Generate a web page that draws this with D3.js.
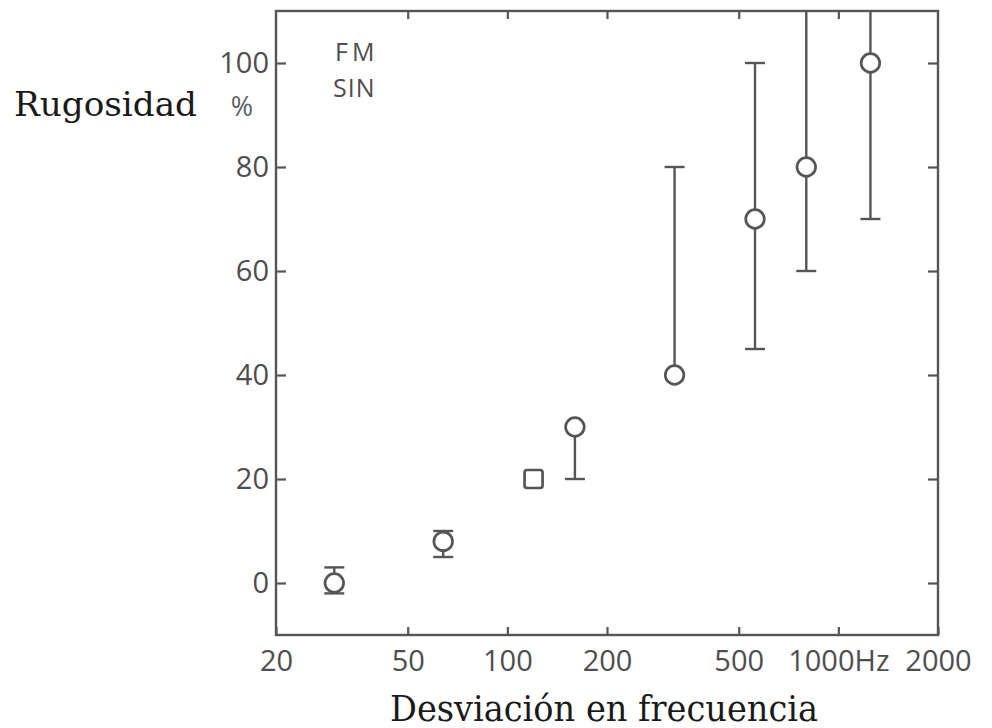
<!DOCTYPE html>
<html>
<head>
<meta charset="utf-8">
<script src="https://cdn.jsdelivr.net/npm/d3@7"></script>
<style>
  html, body { margin: 0; padding: 0; background: #fff; }
  svg { display: block; }
</style>
</head>
<body>
<svg id="chart" width="992" height="728"></svg>
<script>
// Frequency deviation (Hz) of each measured condition
const freq = [30, 64, 120, 160, 320, 560, 800, 1250];
// Perceived roughness (%)
const roughness = [0, 8, 20, 30, 40, 70, 80, 100];
// Spread of the judgements (lower / upper end of each bar)
const spreadLow = [-2, 5, 20, 20, 40, 45, 60, 70];
const spreadHigh = [3, 10, 20, 30, 80, 100, 125, 125];
// Marker symbol for each condition
const markerType = ["circle", "circle", "square", "circle", "circle", "circle", "circle", "circle"];

// Axis ticks and labels
const xTicks = [20, 50, 100, 200, 500, 1000, 2000];
const xTickLabels = ["20", "50", "100", "200", "500", "1000Hz", "2000"];
const yTicks = [0, 20, 40, 60, 80, 100];

const ink = "#555";
const svg = d3.select("#chart");

const x = d3.scaleLog().domain([20, 2000]).range([276, 938]);
const y = d3.scaleLinear().domain([-10, 110]).range([635, 11]);

const [x0, x1] = x.range();
const [yb, yt] = y.range();

svg.append("defs").append("clipPath").attr("id", "plotArea")
  .append("rect").attr("x", x0).attr("y", yt).attr("width", x1 - x0).attr("height", yb - yt);

const tickFont = "'Open Sans', 'DejaVu Sans', sans-serif";
const labelInk = "#4e4e4e";

function styleAxis(g) {
  g.select(".domain").remove();
  g.selectAll(".tick line").attr("stroke", ink).attr("stroke-width", 2.2);
  g.selectAll(".tick text")
    .attr("fill", labelInk)
    .style("font-family", tickFont)
    .style("font-weight", 400)
    .style("font-size", "29px");
}

// Bottom axis, ticks pointing into the plot
svg.append("g")
  .attr("transform", `translate(0,${yb})`)
  .call(d3.axisBottom(x).tickValues(xTicks).tickSize(-8).tickPadding(15)
    .tickFormat((d, i) => xTickLabels[i]))
  .call(styleAxis);

// Top axis, ticks only
svg.append("g")
  .attr("transform", `translate(0,${yt})`)
  .call(d3.axisTop(x).tickValues(xTicks.slice(1, -1)).tickSize(-8).tickFormat(""))
  .call(styleAxis);

// Left axis
svg.append("g")
  .attr("transform", `translate(${x0},0)`)
  .call(d3.axisLeft(y).tickValues(yTicks).tickSize(-10).tickPadding(7))
  .call(styleAxis);

// Right axis, ticks only
svg.append("g")
  .attr("transform", `translate(${x1},0)`)
  .call(d3.axisRight(y).tickValues(yTicks).tickSize(-10).tickFormat(""))
  .call(styleAxis);

// Plot frame
svg.append("rect")
  .attr("x", x0).attr("y", yt)
  .attr("width", x1 - x0).attr("height", yb - yt)
  .attr("fill", "none").attr("stroke", ink).attr("stroke-width", 2.4);

const pts = freq.map((f, i) => ({
  f, v: roughness[i], lo: spreadLow[i], hi: spreadHigh[i], type: markerType[i]
}));

const plot = svg.append("g").attr("clip-path", "url(#plotArea)");

// Spread bars
plot.selectAll("line.bar")
  .data(pts.filter(d => d.hi > d.lo))
  .join("line")
  .attr("class", "bar")
  .attr("x1", d => x(d.f)).attr("x2", d => x(d.f))
  .attr("y1", d => y(d.lo)).attr("y2", d => y(d.hi))
  .attr("stroke", ink).attr("stroke-width", 2.4);

// End caps
const caps = [];
pts.forEach(d => {
  if (d.lo < d.v) caps.push({ f: d.f, val: d.lo });
  if (d.hi > d.v && d.hi <= y.domain()[1]) caps.push({ f: d.f, val: d.hi });
});
plot.selectAll("line.cap")
  .data(caps)
  .join("line")
  .attr("class", "cap")
  .attr("x1", d => x(d.f) - 10).attr("x2", d => x(d.f) + 10)
  .attr("y1", d => y(d.val)).attr("y2", d => y(d.val))
  .attr("stroke", ink).attr("stroke-width", 2.4);

// Markers
plot.selectAll("circle.pt")
  .data(pts.filter(d => d.type === "circle"))
  .join("circle")
  .attr("class", "pt")
  .attr("cx", d => x(d.f)).attr("cy", d => y(d.v))
  .attr("r", 9.3)
  .attr("fill", "#fff").attr("stroke", ink).attr("stroke-width", 2.7);

plot.selectAll("rect.pt")
  .data(pts.filter(d => d.type === "square"))
  .join("rect")
  .attr("class", "pt")
  .attr("x", d => x(d.f) - 9).attr("y", d => y(d.v) - 9)
  .attr("width", 18).attr("height", 18).attr("rx", 2.5)
  .attr("fill", "#fff").attr("stroke", ink).attr("stroke-width", 2.7);

// In-plot note
const note = svg.append("g")
  .attr("fill", labelInk)
  .style("font-family", tickFont).style("font-weight", 400).style("font-size", "25px");
note.append("text")
  .attr("x", 335).attr("y", 61)
  .style("letter-spacing", "4px")
  .text("FM");
note.append("text")
  .attr("x", 333).attr("y", 97)
  .style("letter-spacing", "1px")
  .text("SIN");

// Unit next to the y axis
svg.append("text")
  .attr("x", 242).attr("y", 116)
  .attr("text-anchor", "middle")
  .attr("fill", "#5a5f68")
  .style("font-family", tickFont).style("font-weight", 400).style("font-size", "27px")
  .text("%");

// Axis titles
svg.append("text")
  .attr("x", 14).attr("y", 116)
  .attr("fill", "#1a1a1a")
  .attr("textLength", 183).attr("lengthAdjust", "spacingAndGlyphs")
  .style("font-family", "'DejaVu Serif', 'Liberation Serif', serif")
  .style("font-size", "33px")
  .text("Rugosidad");

svg.append("text")
  .attr("x", 390).attr("y", 721)
  .attr("fill", "#1a1a1a")
  .attr("textLength", 428).attr("lengthAdjust", "spacingAndGlyphs")
  .style("font-family", "'DejaVu Serif', 'Liberation Serif', serif")
  .style("font-size", "35px")
  .text("Desviación en frecuencia");
</script>
</body>
</html>
